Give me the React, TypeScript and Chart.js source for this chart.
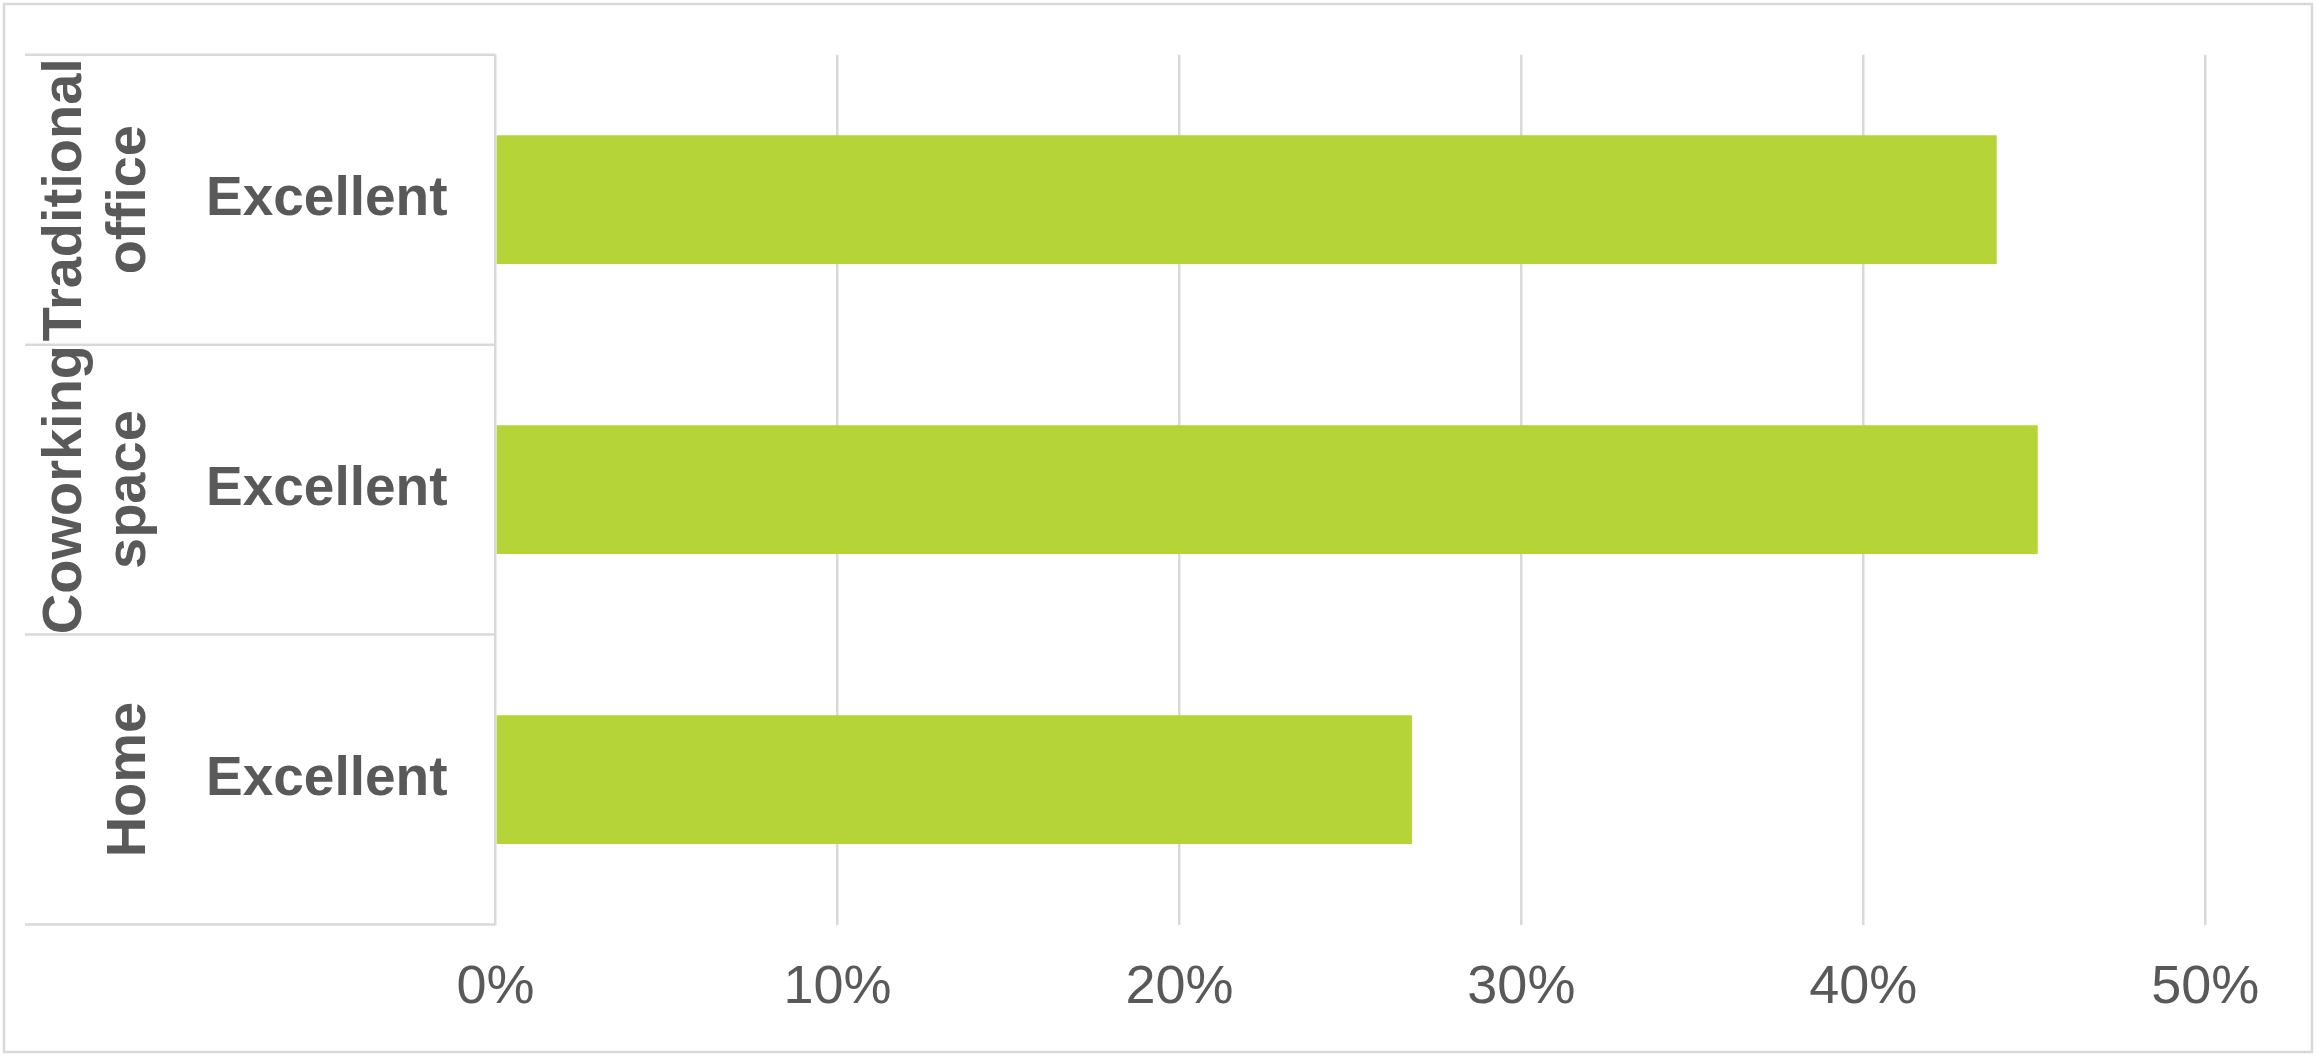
import React, { useEffect, useRef } from "react";
import { Chart, registerables } from "chart.js";

Chart.register(...registerables);

const innerLabels: string[] = ["Excellent", "Excellent", "Excellent"];
const groupLabels: string[][] = [["Traditional", "office"], ["Coworking", "space"], ["Home"]];
const values: number[] = [0.439, 0.451, 0.268];
const xTicks: number[] = [0, 0.1, 0.2, 0.3, 0.4, 0.5];

const W = 2319;
const H = 1058;
const TEXT = "#595959";
const GRID = "#d9d9d9";
const BAR = "#b5d437";
const FONT = '"Liberation Sans", Arial, sans-serif';

const sidePlugin = {
  id: "sideLabels",
  afterDraw(chart: any) {
    const ctx = chart.ctx as CanvasRenderingContext2D;
    const y = chart.scales.y;
    const left = chart.chartArea.left;
    ctx.save();
    ctx.strokeStyle = GRID;
    ctx.lineWidth = 2.5;
    for (let i = 0; i <= innerLabels.length; i++) {
      const py = y.getPixelForValue(i - 0.5);
      ctx.beginPath();
      ctx.moveTo(25, py);
      ctx.lineTo(left, py);
      ctx.stroke();
    }
    ctx.fillStyle = TEXT;
    ctx.font = `bold 56px ${FONT}`;
    ctx.textAlign = "center";
    ctx.textBaseline = "alphabetic";
    groupLabels.forEach((lines, i) => {
      const cy = y.getPixelForValue(i);
      lines.forEach((line, k) => {
        const bx = 145 - (lines.length - 1 - k) * 64;
        ctx.save();
        ctx.translate(bx, cy);
        ctx.rotate(-Math.PI / 2);
        ctx.fillText(line, 0, 0);
        ctx.restore();
      });
    });
    ctx.strokeStyle = GRID;
    ctx.lineWidth = 2.5;
    ctx.strokeRect(4, 4, W - 11, H - 10);
    ctx.restore();
  },
};

export default function App() {
  const ref = useRef<HTMLCanvasElement | null>(null);
  useEffect(() => {
    if (!ref.current) return;
    Chart.defaults.font.family = FONT;
    const chart = new Chart(ref.current, {
      type: "bar",
      data: {
        labels: innerLabels,
        datasets: [
          {
            data: values,
            backgroundColor: BAR,
            borderWidth: 0,
            categoryPercentage: 1,
            barPercentage: 0.444,
          },
        ],
      },
      options: {
        indexAxis: "y",
        responsive: false,
        animation: false,
        events: [],
        layout: { padding: { top: 54.7, right: 113.7, left: 0, bottom: 0 } },
        plugins: { legend: { display: false }, tooltip: { enabled: false } },
        scales: {
          x: {
            type: "linear",
            min: 0,
            max: 0.5,
            afterBuildTicks: (scale: any) => {
              scale.ticks = xTicks.map((v) => ({ value: v }));
            },
            afterFit: (scale: any) => {
              scale.height = H - 924.5;
              scale.paddingLeft = 0;
              scale.paddingRight = 0;
            },
            ticks: {
              color: TEXT,
              font: { size: 54 },
              padding: 31,
              callback: (v: any) => Math.round(Number(v) * 100) + "%",
            },
            grid: { color: GRID, lineWidth: 2.5, drawTicks: false },
            border: { display: false },
          },
          y: {
            type: "category",
            offset: true,
            afterFit: (scale: any) => {
              scale.width = 495.5;
              scale.paddingTop = 0;
              scale.paddingBottom = 0;
            },
            ticks: {
              color: TEXT,
              font: { size: 55, weight: "bold" },
              padding: 48,
            },
            grid: { display: false, drawTicks: false },
            border: { display: false },
          },
        },
      },
      plugins: [sidePlugin],
    } as any);
    return () => chart.destroy();
  }, []);
  return (
    <div style={{ position: "fixed", left: 0, top: 0, width: W, height: H, background: "#fff" }}>
      <canvas ref={ref} width={W} height={H} style={{ display: "block" }} />
    </div>
  );
}
